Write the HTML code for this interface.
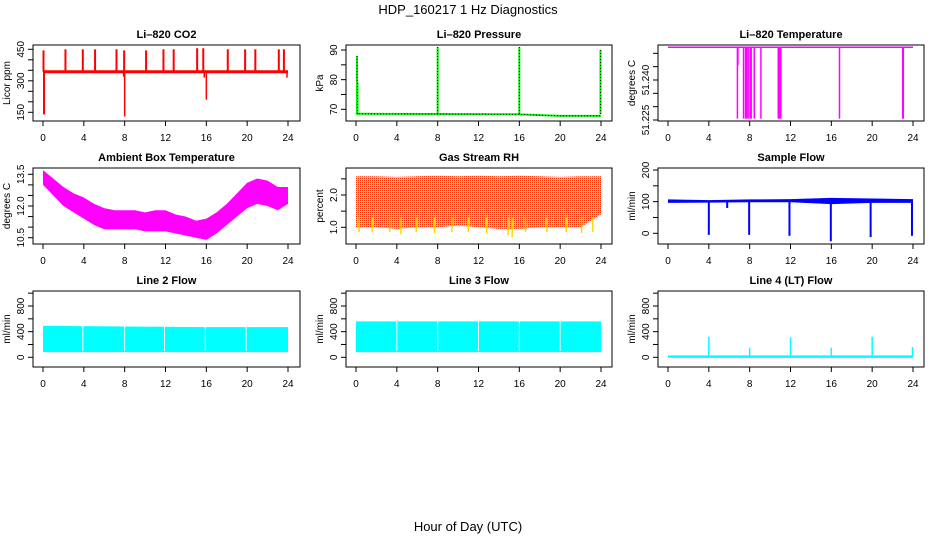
<!DOCTYPE html>
<html><head><meta charset="utf-8">
<style>
html,body{margin:0;padding:0;background:#fff;}
svg{display:block;font-family:"Liberation Sans",sans-serif;}
</style></head>
<body>
<svg id="chart" width="936" height="540" viewBox="0 0 936 540" xmlns="http://www.w3.org/2000/svg">
<defs>
<pattern id="rhpat" width="2" height="2" patternUnits="userSpaceOnUse">
<rect width="2" height="2" fill="#ffe000"/>
<rect x="0" y="0" width="1" height="1" fill="#ff3000"/>
</pattern>
</defs>
<text x="468" y="14" text-anchor="middle" font-size="13">HDP_160217  1 Hz Diagnostics</text>
<text x="468" y="531" text-anchor="middle" font-size="13">Hour of Day (UTC)</text>
</svg>
<script>
// ---- data ----
const hourTicks = [0,4,8,12,16,20,24];
const co2Base = 343;
const co2SpikeHours = [0.05,0.1,2.2,3.9,5.1,7.2,7.95,10.1,11.8,12.8,15.1,15.7,18.1,19.8,20.8,23.1,23.6];
const co2SpikeVals  = [445,140,450,450,450,450,445,445,450,450,455,455,450,450,450,450,450];
const co2DipHours = [0.1,8.0,16.0,7.9,15.8,23.9];
const co2DipVals  = [280,130,210,320,315,315];
const presHours = [0,8,16,20,24];
const presBase  = [68.5,68.4,68.3,67.8,67.8];
const presSpikeHours = [0.1,0.15,8.0,16.0,23.95];
const presSpikeVals  = [88,79,91,91,90];
const tempBase = 51.2523;
const tempDipHours = [6.8,6.85,7.4,7.6,7.7,7.85,8.05,8.15,8.45,9.1,10.8,10.95,11.05,16.8,23.0,23.05];
const tempDipVals  = [51.2255,51.2455,51.2255,51.2255,51.2255,51.2255,51.2255,51.2255,51.2255,51.2255,51.2255,51.2255,51.2255,51.2255,51.2255,51.2255];
const ambHours = [0,1,2,3,4,5,6,7,8,9,10,11,12,13,14,15,16,17,18,19,20,21,22,23,24];
const ambHi = [13.7,13.3,12.9,12.6,12.4,12.1,11.9,11.8,11.8,11.8,11.7,11.8,11.8,11.6,11.5,11.3,11.4,11.7,12.1,12.6,13.1,13.3,13.2,12.9,12.9];
const ambLo = [13.0,12.5,12.0,11.7,11.4,11.1,10.9,10.9,10.9,10.9,10.8,10.8,10.8,10.7,10.6,10.5,10.4,10.7,11.1,11.5,11.9,12.1,12.0,11.8,12.1];
const rhHours = [0,2,4,6,8,10,12,14,16,18,20,22,24];
const rhHi = [2.58,2.58,2.56,2.58,2.6,2.58,2.6,2.58,2.6,2.58,2.56,2.58,2.58];
const rhLo = [1.0,1.0,0.95,1.0,1.0,1.05,1.0,0.95,0.95,1.0,1.0,1.0,1.4];
const rhDipHours = [0.3,1.6,3.3,4.4,5.9,7.7,9.4,11.0,12.8,14.9,15.3,16.6,18.7,20.6,22.1,23.2];
const rhDipVals  = [0.85,0.85,0.85,0.78,0.85,0.82,0.85,0.85,0.82,0.75,0.7,0.85,0.85,0.85,0.82,0.85];
const sfHours = [0,4,8,12,16,20,24];
const sfHi = [107,105,107,108,112,110,108];
const sfLo = [96,97,98,98,92,96,96];
const sfDipHours = [4.0,7.95,11.9,15.95,19.85,23.9,5.8];
const sfDipVals  = [-5,-5,-8,-25,-12,-8,80];
const l2Hours = [0,16,24];
const l2Hi = [490,470,470];
const l2Lo = [80,80,80];
const l2GapHours = [3.9,8.0,11.9,15.9,19.9];
const l3Hours = [0,24];
const l3Hi = [560,560];
const l3Lo = [80,80];
const l3GapHours = [4.0,8.0,12.0,16.0,20.0];
const l4Base = 10;
const l4SpikeHours = [4.0,8.0,12.0,16.0,20.0,23.95];
const l4SpikeVals  = [320,150,310,150,320,160];

// ---- layout ----
const svg = document.getElementById('chart');
const NS = 'http://www.w3.org/2000/svg';
const cols = [{l:33,r:300},{l:346,r:612},{l:658,r:924}];
const rows = [{t:45,b:121},{t:168,b:244},{t:291,b:367}];
function mk(tag, attrs, parent){
  const e = document.createElementNS(NS, tag);
  for (const k in attrs) e.setAttribute(k, attrs[k]);
  (parent||svg).appendChild(e);
  return e;
}
function panel(name, col, row, title, ylab, v1, y1, v2, y2, ticks, labels, fmt){
  const c = cols[col], r = rows[row];
  const g = mk('g', {});
  
  
  const xs = h => c.l + 10 + h * 245 / 24;
  const ys = v => y1 + (v - v1) * (y2 - y1) / (v2 - v1);
  const t = mk('text', {x:(c.l+c.r)/2, y:r.t-7, 'text-anchor':'middle', 'font-size':11, 'font-weight':'bold'}, g);
  t.textContent = title;
  
  
  const plot = mk('g', {}, g);
  
  
  const box = mk('rect', {x:c.l, y:r.t, width:c.r-c.l, height:r.b-r.t, fill:'none', stroke:'#000', 'stroke-width':1}, g);
  
  
  const xa = mk('g', {}, g);
  
  
  mk('line', {x1:xs(0), x2:xs(24), y1:r.b, y2:r.b, stroke:'#000'}, xa);
  hourTicks.forEach(h => {
    mk('line', {x1:xs(h), x2:xs(h), y1:r.b, y2:r.b+5, stroke:'#000'}, xa);
    const lt = mk('text', {x:xs(h), y:r.b+20, 'text-anchor':'middle', 'font-size':10}, xa);
    lt.textContent = h;
  });
  const ya = mk('g', {}, g);
  
  
  ticks.forEach(v => {
    mk('line', {x1:c.l-5, x2:c.l, y1:ys(v), y2:ys(v), stroke:'#000'}, ya);
  });
  labels.forEach(v => {
    const lt = mk('text', {x:0, y:0, 'text-anchor':'middle', 'font-size':10,
      transform:`translate(${c.l-9},${ys(v)}) rotate(-90)`}, ya);
    lt.textContent = fmt ? v.toFixed(fmt) : v;
  });
  const yl = mk('text', {x:0, y:0, 'text-anchor':'middle', 'font-size':10,
    transform:`translate(${c.l-23},${(r.t+r.b)/2}) rotate(-90)`}, g);
  yl.textContent = ylab;
  
  
  return {xs, ys, plot, r};
}
function vline(p, h, va, vb, color, w){
  return mk('line', {x1:p.xs(h), x2:p.xs(h), y1:p.ys(va), y2:p.ys(vb), stroke:color, 'stroke-width':w||1.5}, p.plot);
}
function band(p, hrs, hi, lo, fill){
  let pts = hrs.map((h,i)=>p.xs(h)+','+p.ys(hi[i]));
  pts = pts.concat(hrs.map((h,i)=>p.xs(h)+','+p.ys(lo[i])).reverse());
  return mk('polygon', {points:pts.join(' '), fill:fill}, p.plot);
}

// CO2
const p1 = panel('co2',0,0,'Li\u2013820 CO2','Licor ppm',450,49.3,150,112.3,[150,200,250,300,350,400,450],[150,300,450]);
mk('line',{x1:p1.xs(0),x2:p1.xs(24),y1:p1.ys(co2Base),y2:p1.ys(co2Base),stroke:'#ff0000','stroke-width':3},p1.plot);
co2SpikeHours.forEach((h,i)=>vline(p1,h,co2Base,co2SpikeVals[i],'#ff0000',2));
co2DipHours.forEach((h,i)=>vline(p1,h,co2Base,co2DipVals[i],'#ff0000',1.5));

// Pressure
const p2 = panel('pressure',1,0,'Li\u2013820 Pressure','kPa',90,50,70,109.3,[70,75,80,85,90],[70,80,90]);
mk('polyline',{points:presHours.map((h,i)=>p2.xs(h)+','+p2.ys(presBase[i])).join(' '),fill:'none',stroke:'#00ee00','stroke-width':2},p2.plot);
mk('polyline',{points:presHours.map((h,i)=>p2.xs(h)+','+p2.ys(presBase[i])).join(' '),fill:'none',stroke:'#000','stroke-width':0.8,'stroke-dasharray':'1,2'},p2.plot);
presSpikeHours.forEach((h,i)=>{vline(p2,h,68.4,presSpikeVals[i],'#00ee00',2);
  mk('line',{x1:p2.xs(h),x2:p2.xs(h),y1:p2.ys(68.4),y2:p2.ys(presSpikeVals[i]),stroke:'#000','stroke-width':0.8,'stroke-dasharray':'1,2'},p2.plot);});

// Li-820 temperature
const p3 = panel('li820-temp',2,0,'Li\u2013820 Temperature','degrees C',51.225,120,51.240,80,[51.225,51.230,51.235,51.240,51.245,51.250],[51.225,51.240],3);
mk('line',{x1:p3.xs(0),x2:p3.xs(24),y1:p3.ys(tempBase),y2:p3.ys(tempBase),stroke:'#ff00ff','stroke-width':1.5},p3.plot);
tempDipHours.forEach((h,i)=>vline(p3,h,tempBase,tempDipVals[i],'#ff00ff',1.5));

// Ambient
const p4 = panel('ambient',0,1,'Ambient Box Temperature','degrees C',13.5,174.3,10.5,237.7,[10.5,11,11.5,12,12.5,13,13.5],[10.5,12.0,13.5],1);
band(p4,ambHours,ambHi,ambLo,'#ff00ff');

// RH
const p5 = panel('rh',1,1,'Gas Stream RH','percent',2.0,195,1.0,227.3,[1.0,1.5,2.0,2.5],[1.0,2.0],1);
band(p5,rhHours,rhHi,rhLo,'url(#rhpat)');
rhDipHours.forEach((h,i)=>vline(p5,h,1.3,rhDipVals[i],'#ffd800',1.5));

// Sample flow
const p6 = panel('sample-flow',2,1,'Sample Flow','ml/min',200,170,0,233.3,[0,50,100,150,200],[0,100,200]);
band(p6,sfHours,sfHi,sfLo,'#0000ff');
sfDipHours.forEach((h,i)=>vline(p6,h,100,sfDipVals[i],'#0000ff',2));

// Line 2
const p7 = panel('line2-flow',0,2,'Line 2 Flow','ml/min',0,357.3,800,306,[0,200,400,600,800,1000],[0,400,800]);
band(p7,l2Hours,l2Hi,l2Lo,'#00ffff');
l2GapHours.forEach(h=>vline(p7,h,500,100,'#ffffff',1));

// Line 3
const p8 = panel('line3-flow',1,2,'Line 3 Flow','ml/min',0,357.3,800,306,[0,200,400,600,800,1000],[0,400,800]);
band(p8,l3Hours,l3Hi,l3Lo,'#00ffff');
l3GapHours.forEach(h=>vline(p8,h,560,100,'#ffffff',1));

// Line 4
const p9 = panel('line4-flow',2,2,'Line 4 (LT) Flow','ml/min',0,357.3,800,306,[0,200,400,600,800,1000],[0,400,800]);
mk('line',{x1:p9.xs(0),x2:p9.xs(24),y1:p9.ys(l4Base),y2:p9.ys(l4Base),stroke:'#00ffff','stroke-width':2.5},p9.plot);
l4SpikeHours.forEach((h,i)=>vline(p9,h,l4Base,l4SpikeVals[i],'#00ffff',1.5));
</script>
</body></html>
